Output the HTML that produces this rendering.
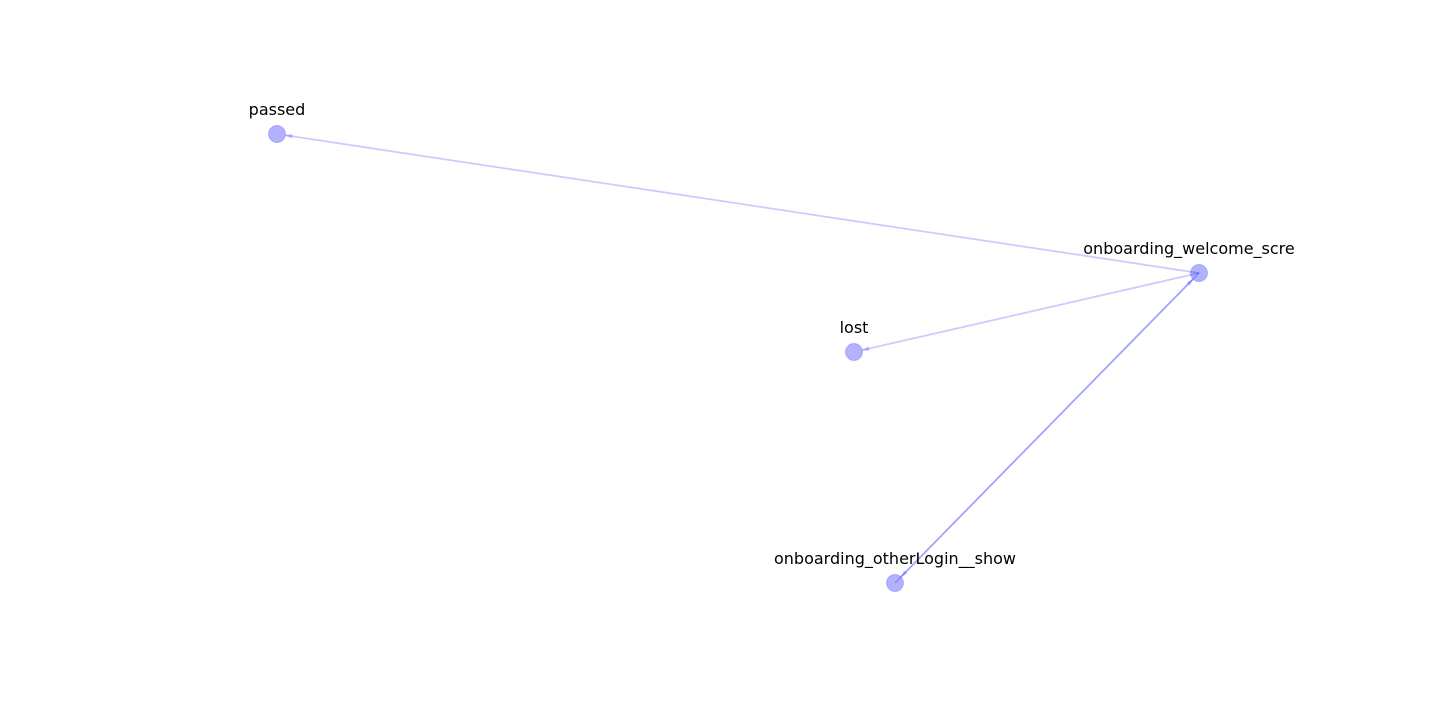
<!DOCTYPE html>
<html><head><meta charset="utf-8"><style>
html,body{margin:0;padding:0;background:#fff;}
svg{display:block;font-family:"DejaVu Sans","Liberation Sans",sans-serif;}
</style></head><body>
<svg id="chart" width="1440" height="720" viewBox="0 0 1440 720">
<rect width="1440" height="720" fill="#fff"/>
<g id="edges"></g>
<g id="nodes"></g>
</svg>
<script>
const nodeNames = ["passed","onboarding_welcome_scre","lost","onboarding_otherLogin__show"];
const nodeX = [277,1199,854,895];
const nodeY = [134,273,352,583];
const edgeSource = [1,1,3,1];
const edgeTarget = [0,2,1,3];
const edgeWeight = [0.2,0.2,0.2,0.2];

const NS="http://www.w3.org/2000/svg";
const eg=document.getElementById('edges'), ng=document.getElementById('nodes');
const R=8.5;
const labelShift=[0,-10,0,0];
for(let i=0;i<edgeSource.length;i++){
  const s=edgeSource[i], t=edgeTarget[i];
  const x1=nodeX[s], y1=nodeY[s], x2=nodeX[t], y2=nodeY[t];
  const dx=x2-x1, dy=y2-y1, L=Math.hypot(dx,dy), ux=dx/L, uy=dy/L;
  const ex=x2-ux*R, ey=y2-uy*R;
  const col=`rgba(0,0,255,${edgeWeight[i]})`;
  const line=document.createElementNS(NS,'line');
  
  
  line.setAttribute('x1',x1);line.setAttribute('y1',y1);
  line.setAttribute('x2',ex);line.setAttribute('y2',ey);
  line.setAttribute('stroke',col);line.setAttribute('stroke-width','1.8');
  eg.appendChild(line);
  const px=-uy, py=ux, h=7, w=2.5;
  const head=document.createElementNS(NS,'polygon');
  
  
  head.setAttribute('points',`${ex},${ey} ${ex-ux*h+px*w},${ey-uy*h+py*w} ${ex-ux*h-px*w},${ey-uy*h-py*w}`);
  head.setAttribute('fill',col);
  eg.appendChild(head);
}
for(let i=0;i<nodeNames.length;i++){
  const c=document.createElementNS(NS,'circle');
  
  
  c.setAttribute('cx',nodeX[i]);c.setAttribute('cy',nodeY[i]);c.setAttribute('r',R);
  c.setAttribute('fill','rgba(0,0,255,0.3)');c.setAttribute('stroke','rgba(0,0,255,0.2)');
  ng.appendChild(c);
  const tx=document.createElementNS(NS,'text');
  
  
  tx.setAttribute('x',nodeX[i]+labelShift[i]);tx.setAttribute('y',nodeY[i]-19);
  tx.setAttribute('text-anchor','middle');tx.setAttribute('font-size','16');tx.setAttribute('fill','#000');
  tx.textContent=nodeNames[i];
  ng.appendChild(tx);
}
</script>
</body></html>
